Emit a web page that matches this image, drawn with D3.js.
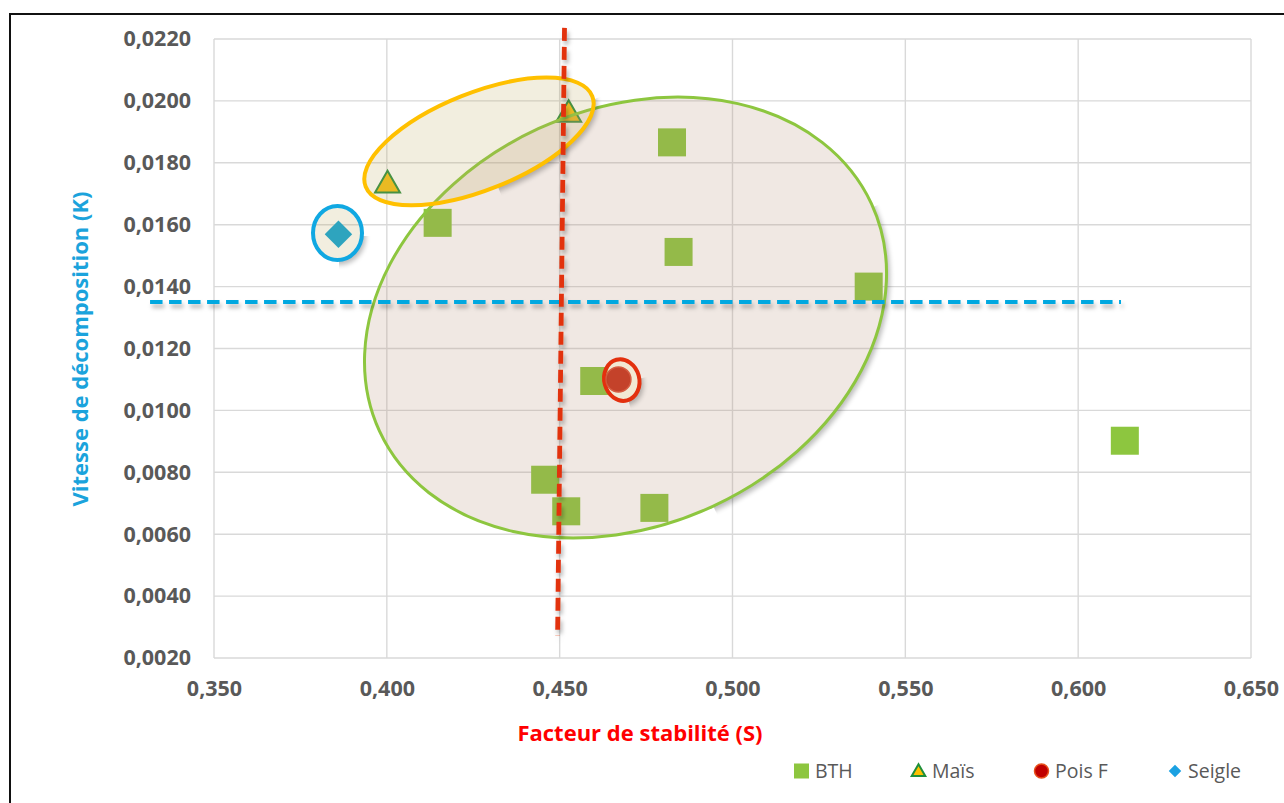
<!DOCTYPE html>
<html><head><meta charset="utf-8">
<script src="https://cdn.jsdelivr.net/npm/d3@7"></script>
<style>
html,body{margin:0;padding:0;background:#fff;}
svg{display:block;font-family:"Open Sans",sans-serif;}
</style></head><body>
<svg id="chart" width="1284" height="803"></svg>
<script>
// ---- data : stability factor (S) vs decomposition rate (K) ----
const bthS   = [0.4147, 0.4825, 0.4844, 0.5394, 0.4600, 0.6135, 0.4458, 0.4519, 0.4774];
const bthK   = [0.01606, 0.01866, 0.01512, 0.01400, 0.01095, 0.00902, 0.00776, 0.00674, 0.00685];
const maisS  = [0.4002, 0.4526];
const maisK  = [0.01734, 0.01962];
const poisS  = [0.4670];
const poisK  = [0.01100];
const seigleS = [0.3860];
const seigleK = [0.01569];

const seriesNames = ["BTH", "Maïs", "Pois F", "Seigle"];
const xTicks = [0.35, 0.40, 0.45, 0.50, 0.55, 0.60, 0.65];
const yTicks = [0.002, 0.004, 0.006, 0.008, 0.010, 0.012, 0.014, 0.016, 0.018, 0.020, 0.022];

// reference lines (S threshold drawn top -> bottom, K threshold left -> right)
const sLineS = [0.4514, 0.4494];
const sLineK = [0.02236, 0.00271];
const kLineS = [0.3315, 0.6124];
const kLineK = [0.01350, 0.01350];

// group envelopes: centres in (S, K)
const groupNames = ["BTH", "Maïs", "Seigle", "Pois F"];
const groupS = [0.46905, 0.42666, 0.38573, 0.46797];
const groupK = [0.01300, 0.01869, 0.01573, 0.01098];

// ---- layout ----
const W = 1284, H = 803;
const svg = d3.select("#chart");
const x = d3.scaleLinear().domain([0.35, 0.65]).range([214, 1251]);
const y = d3.scaleLinear().domain([0.002, 0.022]).range([658, 39]);
const frLocale = d3.formatLocale({decimal: ",", thousands: " ", grouping: [3], currency: ["", "€"]});
const fmtX = frLocale.format(".3f");
const fmtY = frLocale.format(".4f");

const defs = svg.append("defs");
const blur = defs.append("filter").attr("id", "blur")
  .attr("filterUnits", "userSpaceOnUse").attr("x", 0).attr("y", 0).attr("width", W).attr("height", H);
blur.append("feGaussianBlur").attr("stdDeviation", 2.4);
const lineShadow = defs.append("filter").attr("id", "lineShadow")
  .attr("filterUnits", "userSpaceOnUse").attr("x", 0).attr("y", 0).attr("width", W).attr("height", H);
lineShadow.append("feDropShadow").attr("dx", 2).attr("dy", 4).attr("stdDeviation", 2)
  .attr("flood-color", "#000").attr("flood-opacity", 0.28);

// outer frame
svg.append("rect").attr("x", 10).attr("y", 14).attr("width", 1290).attr("height", 800)
  .attr("fill", "none").attr("stroke", "#111").attr("stroke-width", 2);

// grid
const grid = svg.append("g");
grid.selectAll("line.v").data(xTicks).join("line").attr("class", "v")
  .attr("x1", d => x(d)).attr("x2", d => x(d)).attr("y1", y(0.022)).attr("y2", y(0.002))
  .attr("stroke", "#d9d9d9").attr("stroke-width", 1.4);
grid.selectAll("line.h").data(yTicks).join("line").attr("class", "h")
  .attr("y1", d => y(d)).attr("y2", d => y(d)).attr("x1", x(0.35)).attr("x2", x(0.65))
  .attr("stroke", "#d9d9d9").attr("stroke-width", 1.4);

// axes (tick labels only; the grid carries the lines)
const xAxis = svg.append("g").attr("transform", `translate(0,${y(0.002)})`)
  .call(d3.axisBottom(x).tickValues(xTicks).tickFormat(fmtX).tickSize(0).tickPadding(23));
const yAxis = svg.append("g").attr("transform", `translate(${x(0.35)},0)`)
  .call(d3.axisLeft(y).tickValues(yTicks).tickFormat(fmtY).tickSize(0).tickPadding(23));
[xAxis, yAxis].forEach(a => {
  a.select(".domain").remove();
  a.selectAll("text").attr("font-family", "Open Sans").attr("font-weight", 700)
    .attr("font-size", 21.5).attr("fill", "#595959");
});

// axis titles
svg.append("text").attr("x", 640).attr("y", 741).attr("text-anchor", "middle")
  .attr("font-weight", 700).attr("font-size", 22).attr("fill", "#ff0000")
  .text("Facteur de stabilité (S)");
svg.append("text").attr("transform", "translate(88,349) rotate(-90)").attr("text-anchor", "middle")
  .attr("font-weight", 700).attr("font-size", 22).attr("fill", "#1ba3dc")
  .text("Vitesse de décomposition (K)");

// ---- markers ----
const sym = (type, size) => d3.symbol().type(type).size(size)();
const marks = svg.append("g");

marks.selectAll("rect.bth").data(bthS.map((s, i) => [s, bthK[i]])).join("rect").attr("class", "bth")
  .attr("x", d => x(d[0]) - 14).attr("y", d => y(d[1]) - 14).attr("width", 28).attr("height", 28)
  .attr("fill", "#8dc63f");

marks.selectAll("path.mais").data(maisS.map((s, i) => [s, maisK[i]])).join("path").attr("class", "mais")
  .attr("transform", d => `translate(${x(d[0])},${y(d[1]) + 2})`)
  .attr("d", sym(d3.symbolTriangle, 270))
  .attr("fill", "#f5be14").attr("stroke", "#2a8c3c").attr("stroke-width", 2);

marks.selectAll("path.seigle").data(seigleS.map((s, i) => [s, seigleK[i]])).join("path").attr("class", "seigle")
  .attr("transform", d => `translate(${x(d[0])},${y(d[1])})`)
  .attr("d", sym(d3.symbolDiamond2, 480))
  .attr("fill", "#0aa3d6");

// ---- group envelopes ----
const envelopeStyle = {
  "BTH":    {rx: 271, ry: 208, rot: -24.8, stroke: "#8dc63f", sw: 3,  fill: "rgba(180,140,115,0.2)"},
  "Maïs":   {rx: 122, ry: 48.5, rot: -21.8, stroke: "#ffc000", sw: 4, fill: "rgba(190,170,95,0.2)"},
  "Seigle": {rx: 24.5, ry: 27, rot: 0,     stroke: "#10a8e2", sw: 4,  fill: "rgba(190,170,95,0.2)"},
  "Pois F": {rx: 17.5, ry: 21, rot: -15,   stroke: "#e3300e", sw: 4,  fill: "rgba(245,235,190,0.45)"}
};
const envData = groupNames.map((g, i) => ({g, s: groupS[i], k: groupK[i], st: envelopeStyle[groupNames[i]]}));
const envTransform = (d, dx = 0, dy = 0) => `translate(${x(d.s) + dx},${y(d.k) + dy}) rotate(${d.st.rot})`;

envData.forEach((d, i) => {
  // soft outer shadow, kept outside the envelope so the translucent fill stays clean
  const m = defs.append("mask").attr("id", "envMask" + i)
    .attr("maskUnits", "userSpaceOnUse").attr("x", 0).attr("y", 0).attr("width", W).attr("height", H);
  m.append("rect").attr("width", W).attr("height", H).attr("fill", "#fff");
  m.append("ellipse").attr("transform", envTransform(d)).attr("rx", d.st.rx).attr("ry", d.st.ry).attr("fill", "#000");
  svg.append("g").attr("mask", `url(#envMask${i})`)
    .append("ellipse").attr("transform", envTransform(d, 2, 3))
    .attr("rx", d.st.rx + d.st.sw / 2).attr("ry", d.st.ry + d.st.sw / 2)
    .attr("fill", "#000").attr("opacity", 0.26).attr("filter", "url(#blur)");

  svg.append("ellipse").attr("transform", envTransform(d))
    .attr("rx", d.st.rx).attr("ry", d.st.ry)
    .attr("fill", d.st.fill).attr("stroke", d.st.stroke).attr("stroke-width", d.st.sw);
});

// Pois F point sits inside its envelope
svg.selectAll("circle.pois").data(poisS.map((s, i) => [s, poisK[i]])).join("circle").attr("class", "pois")
  .attr("cx", d => x(d[0])).attr("cy", d => y(d[1])).attr("r", 12.5)
  .attr("fill", "#c23a22").attr("stroke", "#d4553a").attr("stroke-width", 1.5).attr("opacity", 0.95);

// ---- reference lines ----
const line = d3.line().x(d => x(d[0])).y(d => y(d[1]));
svg.append("path").datum(kLineS.map((s, i) => [s, kLineK[i]]))
  .attr("d", line).attr("fill", "none").attr("stroke", "#00a8e0").attr("stroke-width", 4)
  .attr("stroke-dasharray", "12.5,6.5").attr("filter", "url(#lineShadow)");
svg.append("path").datum(sLineS.map((s, i) => [s, sLineK[i]]))
  .attr("d", line).attr("fill", "none").attr("stroke", "#e2310c").attr("stroke-width", 4.8)
  .attr("stroke-dasharray", "13,6").attr("filter", "url(#lineShadow)");

// ---- legend ----
const legendX = [794, 911, 1034, 1168];
const lg = svg.append("g").attr("font-size", 19.5).attr("fill", "#595959");
const items = lg.selectAll("g").data(seriesNames).join("g")
  .attr("transform", (d, i) => `translate(${legendX[i]},771)`);
items.each(function(d, i) {
  const g = d3.select(this);
  if (d === "BTH") g.append("rect").attr("x", 0).attr("y", -7.5).attr("width", 15).attr("height", 15).attr("fill", "#8dc63f");
  if (d === "Maïs") g.append("path").attr("transform", "translate(7.5,1)").attr("d", sym(d3.symbolTriangle, 80))
    .attr("fill", "#ffc000").attr("stroke", "#1f8f3a").attr("stroke-width", 2);
  if (d === "Pois F") g.append("circle").attr("cx", 7.5).attr("cy", 0).attr("r", 7)
    .attr("fill", "#c00000").attr("stroke", "#e8501c").attr("stroke-width", 1.5);
  if (d === "Seigle") g.append("path").attr("transform", "translate(7,0)").attr("d", sym(d3.symbolDiamond2, 100))
    .attr("fill", "#1ba1e2");
  g.append("text").attr("x", i === 3 ? 20 : 21).attr("y", 0).attr("dy", "0.35em").text(d);
});
</script>
</body></html>
